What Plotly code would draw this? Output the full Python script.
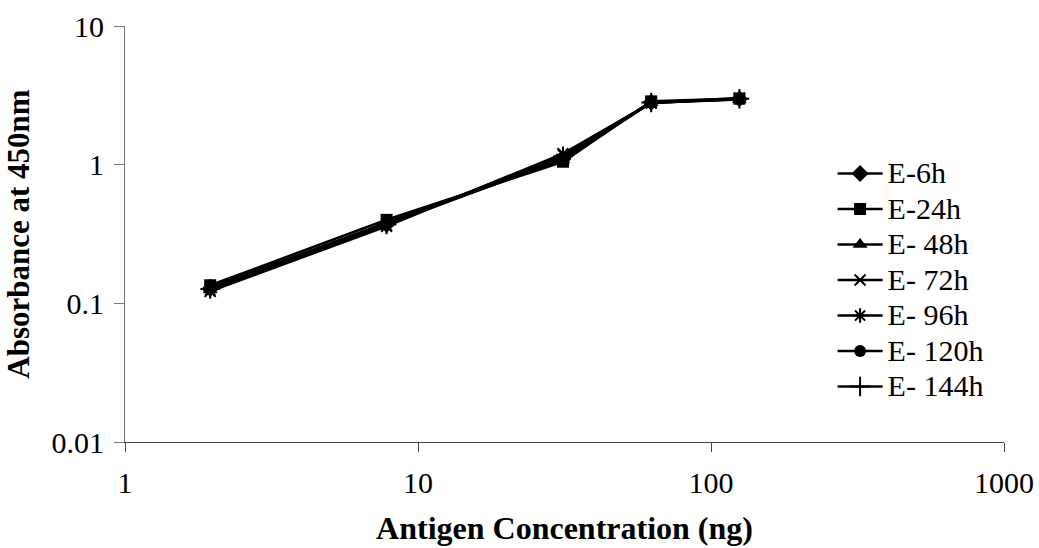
import plotly.graph_objects as go

# Antigen amounts (ng) and absorbance readings per incubation time
concentration = [1.953, 7.8125, 31.25, 62.5, 125]

series_names = ["E-6h", "E-24h", "E- 48h", "E- 72h", "E- 96h", "E- 120h", "E- 144h"]
abs_6h = [0.128, 0.37, 1.10, 2.82, 2.98]
abs_24h = [0.135, 0.40, 1.05, 2.86, 3.00]
abs_48h = [0.125, 0.38, 1.08, 2.80, 2.95]
abs_72h = [0.122, 0.36, 1.20, 2.78, 3.02]
abs_96h = [0.124, 0.365, 1.18, 2.80, 2.97]
abs_120h = [0.130, 0.38, 1.12, 2.83, 2.96]
abs_144h = [0.127, 0.37, 1.15, 2.81, 2.99]
series_values = [abs_6h, abs_24h, abs_48h, abs_72h, abs_96h, abs_120h, abs_144h]

x_ticks = [1, 10, 100, 1000]
x_tick_text = ["1", "10", "100", "1000"]
y_ticks = [0.01, 0.1, 1, 10]
y_tick_text = ["0.01", "0.1", "1", "10"]

symbols = ["diamond", "square", "triangle-up", "x-thin", "asterisk", "circle", "cross-thin"]
sizes = [13, 12, 13, 11, 12, 12, 14]

FONT = "Liberation Serif"
LEGEND_TEXT = '<span style="font-size:30px">{}</span>'

fig = go.Figure()
for i, (name, vals) in enumerate(zip(series_names, series_values)):
    thin = symbols[i] in ("x-thin", "asterisk", "cross-thin")
    fig.add_trace(go.Scatter(
        x=concentration, y=vals, name=LEGEND_TEXT.format(name), mode="lines+markers",
        line=dict(color="black", width=2.6),
        marker=dict(symbol=symbols[i], size=sizes[i], color="black",
                    line=dict(color="black", width=2 if thin else 0)),
    ))

fig.update_layout(
    width=1039, height=548,
    margin=dict(l=125, r=35, t=26, b=106, autoexpand=False),
    paper_bgcolor="white", plot_bgcolor="white",
    font=dict(family=FONT, size=30, color="black"),
    showlegend=True,
    legend=dict(x=0.805, y=0.70, xanchor="left", yanchor="top",
                bgcolor="rgba(0,0,0,0)", itemwidth=45,
                font=dict(family=FONT, size=25, color="black")),
    xaxis=dict(type="log", range=[0, 3], tickvals=x_ticks, ticktext=x_tick_text,
               showgrid=False, zeroline=False, showline=True, linecolor="#444",
               linewidth=1, ticks="outside", ticklen=9, tickcolor="#444",
               ticklabelstandoff=5, automargin=False,
               tickfont=dict(family=FONT, size=30),
               title=dict(text="<b>Antigen Concentration (ng)</b>",
                          font=dict(family=FONT, size=32), standoff=18)),
    yaxis=dict(type="log", range=[-2, 1], tickvals=y_ticks, ticktext=y_tick_text,
               showgrid=False, zeroline=False, showline=True, linecolor="#777",
               linewidth=1, ticks="outside", ticklen=10, tickcolor="#777",
               ticklabelstandoff=4, automargin=False,
               tickfont=dict(family=FONT, size=30),
               title=dict(text="<b>Absorbance at 450nm</b>",
                          font=dict(family=FONT, size=31), standoff=12)),
)

fig.write_html("out.html")
